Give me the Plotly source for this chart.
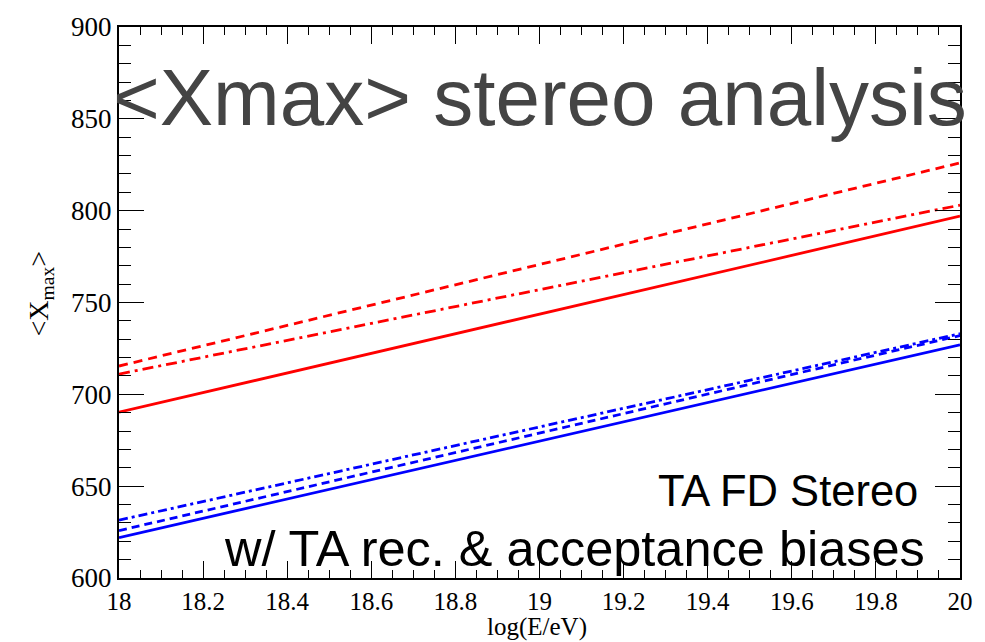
import plotly.graph_objects as go

# log10 of the primary energy
log_energy = [18.0, 19.0, 20.0]

# <Xmax> predictions [g/cm^2]
red_solid = [690.3, 743.6, 797.0]
red_dashed = [715.4, 770.7, 826.0]
red_dashdot = [711.0, 757.0, 803.0]
blue_solid = [622.0, 674.5, 727.0]
blue_dashed = [625.8, 678.9, 732.0]
blue_dashdot = [631.5, 682.3, 733.0]

x_ticks = [18.0, 18.2, 18.4, 18.6, 18.8, 19.0, 19.2, 19.4, 19.6, 19.8, 20.0]
x_tick_text = ["18", "18.2", "18.4", "18.6", "18.8", "19", "19.2", "19.4", "19.6", "19.8", "20"]
y_ticks = [600, 650, 700, 750, 800, 850, 900]

series = [
    (red_solid, "red", "solid"),
    (red_dashed, "red", "9px,6px"),
    (red_dashdot, "red", "11px,5px,3px,5px"),
    (blue_solid, "blue", "solid"),
    (blue_dashed, "blue", "8px,5px"),
    (blue_dashdot, "blue", "9px,4px,3px,4px"),
]

fig = go.Figure()
for vals, col, dash in series:
    fig.add_trace(go.Scatter(
        x=log_energy, y=vals, mode="lines",
        line=dict(color=col, width=2.8, dash=dash),
        showlegend=False, hoverinfo="skip",
    ))

serif = "Liberation Serif, Times New Roman, serif"

fig.update_xaxes(
    range=[18, 20], tickvals=x_ticks, ticktext=x_tick_text,
    ticks="inside", ticklen=17, tickwidth=1.3, tickcolor="black",
    minor=dict(dtick=0.05, ticks="inside", ticklen=8, tickwidth=1.3, tickcolor="black", showgrid=False),
    showline=True, linewidth=2, linecolor="black", mirror="allticks",
    showgrid=False, zeroline=False, tickfont=dict(family=serif, size=25, color="black"),
)
fig.update_yaxes(
    range=[600, 900], tickvals=y_ticks,
    ticks="inside", ticklen=25, tickwidth=1.3, tickcolor="black",
    minor=dict(dtick=10, ticks="inside", ticklen=12, tickwidth=1.3, tickcolor="black", showgrid=False),
    showline=True, linewidth=2, linecolor="black", mirror="allticks",
    showgrid=False, zeroline=False, tickfont=dict(family=serif, size=27, color="black"),
)

sans = "Liberation Sans, Arial, Helvetica, sans-serif"
fig.add_annotation(
    text="&lt;Xmax&gt; stereo analysis", xref="paper", yref="paper",
    x=0.500, y=0.872, xanchor="center", yanchor="middle", showarrow=False,
    font=dict(family=sans, size=80, color="#444444"),
)
fig.add_annotation(
    text="TA FD Stereo", xref="paper", yref="paper",
    x=0.952, y=0.158, xanchor="right", yanchor="middle", showarrow=False,
    font=dict(family=sans, size=43.5, color="black"),
)
fig.add_annotation(
    text="w/ TA rec. &amp; acceptance biases", xref="paper", yref="paper",
    x=0.961, y=0.054, xanchor="right", yanchor="middle", showarrow=False,
    font=dict(family=sans, size=50.5, color="black"),
)
fig.add_annotation(
    text="log(E/eV)", xref="paper", yref="paper",
    x=0.497, y=-0.089, xanchor="center", yanchor="middle", showarrow=False,
    font=dict(family=serif, size=25, color="black"),
)
fig.add_annotation(
    text="&lt;X<sub>max</sub>&gt;", xref="paper", yref="paper",
    x=-0.093, y=0.516, xanchor="center", yanchor="middle", textangle=-90, showarrow=False,
    font=dict(family=serif, size=28, color="black"),
)

fig.update_layout(
    width=985, height=642,
    margin=dict(l=119, r=18, t=20, b=64),
    paper_bgcolor="white", plot_bgcolor="white",
)

fig.write_html("out.html")
